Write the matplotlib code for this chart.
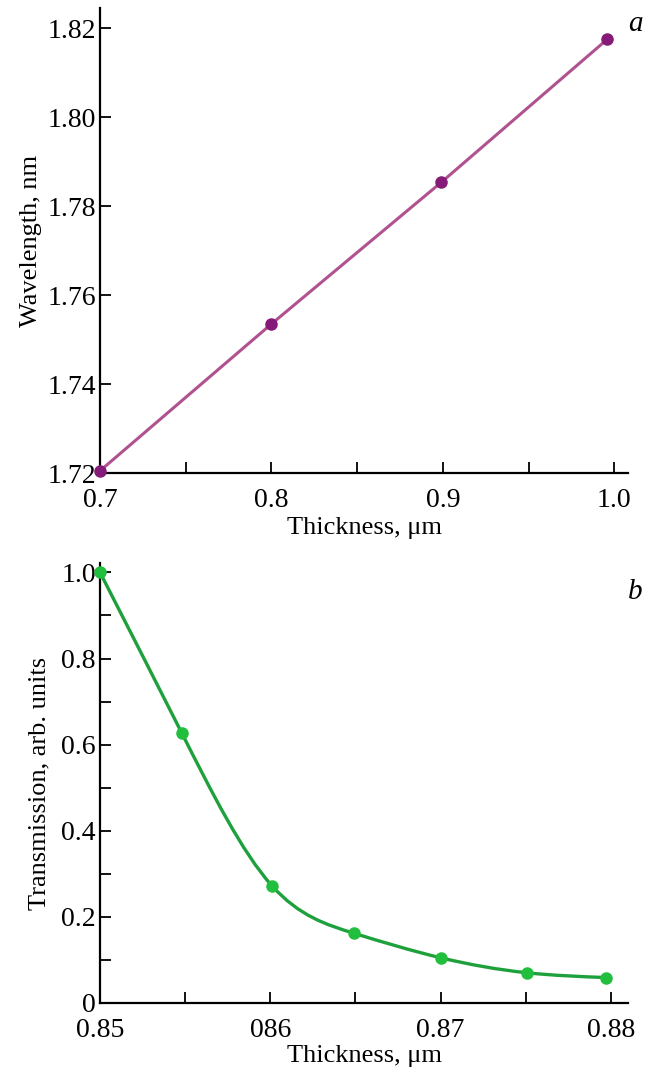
import numpy as np
from matplotlib import pyplot as plt
from matplotlib.path import Path
from matplotlib.patches import PathPatch
from matplotlib.ticker import FixedLocator

plt.rcParams['font.family'] = ['Liberation Serif', 'DejaVu Serif']

# panel a
thick_a = [0.700, 0.800, 0.899, 0.996]
wave_a = [1.7205, 1.7535, 1.7853, 1.8175]

# panel b
thick_b = [0.8500, 0.8548, 0.8601, 0.8649, 0.8700, 0.8751, 0.8797]
trans_b = [1.000, 0.627, 0.272, 0.162, 0.105, 0.070, 0.059]

xticks_a = [0.7, 0.8, 0.9, 1.0]
xlabels_a = ['0.7', '0.8', '0.9', '1.0']
yticks_a = [1.72, 1.74, 1.76, 1.78, 1.80, 1.82]
ylabels_a = ['1.72', '1.74', '1.76', '1.78', '1.80', '1.82']
xticks_b = [0.85, 0.86, 0.87, 0.88]
xlabels_b = ['0.85', '086', '0.87', '0.88']
yticks_b = [0, 0.2, 0.4, 0.6, 0.8, 1.0]
ylabels_b = ['0', '0.2', '0.4', '0.6', '0.8', '1.0']

PURPLE_LINE = '#b0528f'
PURPLE_DOT = '#861a78'
GREEN_LINE = '#1ea03c'
GREEN_DOT = '#22bf3e'
FS = 20


def spline_path(xs, ys):
    # natural cubic spline slopes, drawn by matplotlib as bezier segments
    x = np.asarray(xs, float)
    y = np.asarray(ys, float)
    n = len(x)
    h = np.diff(x)
    A = np.zeros((n, n))
    r = np.zeros(n)
    A[0, 0], A[0, 1] = 2 / h[0], 1 / h[0]
    r[0] = 3 * (y[1] - y[0]) / h[0] ** 2
    A[-1, -2], A[-1, -1] = 1 / h[-1], 2 / h[-1]
    r[-1] = 3 * (y[-1] - y[-2]) / h[-1] ** 2
    for i in range(1, n - 1):
        A[i, i - 1] = 1 / h[i - 1]
        A[i, i] = 2 / h[i - 1] + 2 / h[i]
        A[i, i + 1] = 1 / h[i]
        r[i] = 3 * ((y[i] - y[i - 1]) / h[i - 1] ** 2 + (y[i + 1] - y[i]) / h[i] ** 2)
    d = np.linalg.solve(A, r)
    verts = [(x[0], y[0])]
    codes = [Path.MOVETO]
    for i in range(n - 1):
        verts += [(x[i] + h[i] / 3, y[i] + d[i] * h[i] / 3),
                  (x[i + 1] - h[i] / 3, y[i + 1] - d[i + 1] * h[i] / 3),
                  (x[i + 1], y[i + 1])]
        codes += [Path.CURVE4] * 3
    return Path(verts, codes)


def style_axes(ax):
    for side in ['top', 'right']:
        ax.spines[side].set_visible(False)
    for side in ['left', 'bottom']:
        ax.spines[side].set_linewidth(1.6)
    ax.tick_params(which='both', direction='in', length=8, width=1.3,
                   labelsize=FS)
    ax.tick_params(axis='x', pad=11)
    ax.tick_params(axis='y', pad=3)


fig = plt.figure(figsize=(6.47, 10.68), dpi=100)

# ---- a ----
ax1 = fig.add_axes([0.1546, 0.5571, 0.8160, 0.4354])
ax1.plot(thick_a, wave_a, color=PURPLE_LINE, linewidth=2.2, zorder=2)
ax1.plot(thick_a, wave_a, 'o', color=PURPLE_DOT, markersize=8, zorder=3,
         clip_on=False)
ax1.set_xlim(0.7, 1.008)
ax1.set_ylim(1.72, 1.8245)
ax1.set_xticks(xticks_a)
ax1.set_xticklabels(xlabels_a)
ax1.xaxis.set_minor_locator(FixedLocator([0.75, 0.85, 0.95]))
ax1.set_yticks(yticks_a)
ax1.set_yticklabels(ylabels_a)
style_axes(ax1)
ax1.set_xlabel('Thickness, μm', fontsize=19, labelpad=3)
ax1.set_ylabel('Wavelength, nm', fontsize=19, labelpad=4)
ax1.text(1.0, 0.965, 'a', transform=ax1.transAxes, fontsize=21,
         style='italic', ha='left', va='center')

# ---- b ----
ax2 = fig.add_axes([0.1546, 0.0609, 0.8160, 0.412])
ax2.add_patch(PathPatch(spline_path(thick_b, trans_b), facecolor='none',
                        edgecolor=GREEN_LINE, linewidth=2.4, zorder=2))
ax2.plot(thick_b, trans_b, 'o', color=GREEN_DOT, markersize=8, zorder=3,
         clip_on=False)
ax2.set_xlim(0.85, 0.881)
ax2.set_ylim(0, 1.022)
ax2.set_xticks(xticks_b)
ax2.set_xticklabels(xlabels_b)
ax2.xaxis.set_minor_locator(FixedLocator([0.855, 0.865, 0.875]))
ax2.set_yticks(yticks_b)
ax2.set_yticklabels(ylabels_b)
ax2.yaxis.set_minor_locator(FixedLocator([0.1, 0.3, 0.5, 0.7, 0.9]))
style_axes(ax2)
ax2.set_xlabel('Thickness, μm', fontsize=19, labelpad=1)
ax2.set_ylabel('Transmission, arb. units', fontsize=19, labelpad=8)
ax2.text(1.0, 0.935, 'b', transform=ax2.transAxes, fontsize=21,
         style='italic', ha='left', va='center')

fig.savefig('out.png', dpi=100)
